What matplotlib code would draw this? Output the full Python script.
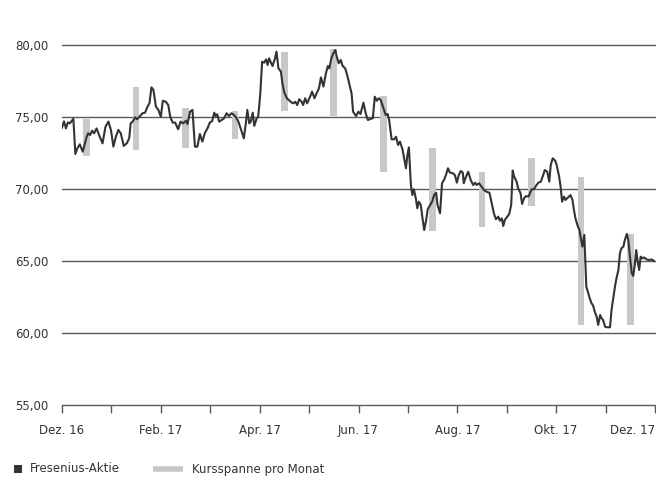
import matplotlib
matplotlib.use("Agg")
import matplotlib.pyplot as plt
from matplotlib.patches import Rectangle
from matplotlib.lines import Line2D
from matplotlib.ticker import FuncFormatter

# ---- data ----
# time in months since 1 Dec 2016 (0 = Dez. 16, 12 = Dez. 17)
t_months = [0.00, 0.04, 0.08, 0.12, 0.16, 0.23, 0.27, 0.31, 0.36, 0.42, 0.50, 0.53, 0.57, 0.61,
            0.65, 0.70, 0.75, 0.82, 0.88, 0.94, 0.99, 1.04, 1.09, 1.14, 1.19, 1.25, 1.31, 1.36,
            1.39, 1.43, 1.48, 1.52, 1.58, 1.63, 1.68, 1.73, 1.77, 1.81, 1.85, 1.90, 1.95, 2.00,
            2.04, 2.10, 2.15, 2.19, 2.24, 2.29, 2.35, 2.40, 2.45, 2.51, 2.54, 2.59, 2.64, 2.69,
            2.74, 2.79, 2.84, 2.89, 2.95, 2.99, 3.04, 3.08, 3.11, 3.14, 3.18, 3.23, 3.28, 3.33,
            3.38, 3.43, 3.48, 3.52, 3.57, 3.62, 3.68, 3.72, 3.75, 3.79, 3.82, 3.86, 3.89, 3.94,
            3.97, 4.01, 4.05, 4.09, 4.13, 4.16, 4.19, 4.23, 4.26, 4.31, 4.34, 4.38, 4.43, 4.46,
            4.50, 4.55, 4.59, 4.64, 4.68, 4.72, 4.76, 4.80, 4.85, 4.88, 4.92, 4.96, 5.02, 5.06,
            5.11, 5.15, 5.20, 5.24, 5.29, 5.34, 5.38, 5.41, 5.45, 5.49, 5.53, 5.56, 5.60, 5.64,
            5.68, 5.73, 5.77, 5.81, 5.86, 5.89, 5.95, 6.00, 6.04, 6.10, 6.15, 6.19, 6.25, 6.29,
            6.33, 6.37, 6.41, 6.45, 6.50, 6.55, 6.59, 6.62, 6.67, 6.72, 6.76, 6.80, 6.84, 6.89,
            6.93, 6.96, 6.99, 7.02, 7.06, 7.09, 7.12, 7.16, 7.19, 7.22, 7.26, 7.30, 7.33, 7.37,
            7.40, 7.45, 7.49, 7.53, 7.57, 7.60, 7.65, 7.69, 7.73, 7.77, 7.81, 7.85, 7.91, 7.95,
            7.99, 8.03, 8.07, 8.11, 8.13, 8.17, 8.22, 8.27, 8.32, 8.36, 8.39, 8.44, 8.49, 8.54,
            8.59, 8.65, 8.69, 8.74, 8.78, 8.83, 8.86, 8.90, 8.93, 8.96, 9.00, 9.05, 9.09, 9.12,
            9.15, 9.20, 9.23, 9.28, 9.31, 9.35, 9.39, 9.44, 9.47, 9.50, 9.55, 9.59, 9.64, 9.69,
            9.73, 9.77, 9.82, 9.86, 9.89, 9.93, 9.98, 10.01, 10.06, 10.09, 10.12, 10.16, 10.19,
            10.22, 10.26, 10.29, 10.33, 10.36, 10.39, 10.43, 10.47, 10.50, 10.53, 10.57, 10.59,
            10.61, 10.65, 10.68, 10.71, 10.75, 10.78, 10.82, 10.85, 10.89, 10.92, 10.95, 10.99,
            11.02, 11.05, 11.09, 11.12, 11.16, 11.19, 11.22, 11.26, 11.29, 11.32, 11.36, 11.39,
            11.43, 11.46, 11.49, 11.53, 11.56, 11.59, 11.62, 11.65, 11.68, 11.71, 11.75, 11.78,
            11.83, 11.88, 11.93, 11.98]

price = [74.26, 74.70, 74.21, 74.63, 74.56, 74.88, 72.43, 72.82, 73.10, 72.59, 73.63, 73.87, 73.75, 74.05,
         73.87, 74.21, 73.75, 73.17, 74.33, 74.68, 74.10, 72.94, 73.63, 74.10, 73.87, 72.99, 73.17, 73.52,
         74.56, 74.68, 74.98, 74.84, 75.07, 75.26, 75.30, 75.72, 75.95, 77.06, 76.88, 75.72, 75.49, 75.02,
         76.13, 76.06, 75.83, 75.02, 74.61, 74.61, 74.15, 74.68, 74.56, 74.74, 74.51, 75.37, 75.49, 72.94,
         72.94, 73.82, 73.29, 73.87, 74.26, 74.61, 74.72, 75.30, 75.07, 75.19, 74.68, 74.79, 74.91, 75.26,
         75.07, 75.26, 75.14, 74.98, 74.68, 74.15, 73.52, 74.56, 75.49, 74.56, 74.68, 75.30, 74.38, 74.91,
         75.02, 76.50, 78.84, 78.77, 79.00, 78.61, 79.07, 78.77, 78.54, 79.07, 79.54, 78.38, 78.15, 77.34,
         76.69, 76.30, 76.18, 76.02, 75.95, 76.06, 75.83, 76.23, 76.06, 75.83, 76.30, 75.95, 76.41, 76.76,
         76.30, 76.64, 76.99, 77.75, 77.11, 78.03, 78.54, 78.38, 79.07, 79.42, 79.65, 79.19, 78.73, 78.96,
         78.54, 78.38, 77.92, 77.34, 76.64, 75.37, 75.07, 75.37, 75.21, 75.99, 75.21, 74.79, 74.88, 74.91,
         76.41, 76.13, 76.30, 76.18, 75.67, 75.14, 75.21, 74.79, 73.45, 73.45, 73.63, 73.06, 73.29, 72.76,
         72.01, 71.44, 72.36, 72.89, 70.28, 69.58, 69.98, 69.35, 68.66, 69.12, 68.89, 67.85, 67.15, 67.85,
         68.59, 68.89, 69.12, 69.58, 69.74, 68.89, 68.31, 70.40, 70.63, 70.97, 71.44, 71.14, 71.09, 70.97,
         70.44, 70.97, 71.25, 71.14, 70.40, 70.81, 71.20, 70.63, 70.28, 70.44, 70.28, 70.40, 70.16, 69.93,
         69.81, 69.74, 69.12, 68.31, 67.90, 68.08, 67.80, 67.96, 67.43, 67.85, 68.03, 68.26, 68.89, 71.28,
         70.86, 70.51, 70.05, 69.70, 68.96, 69.35, 69.51, 69.47, 69.70, 69.98, 69.98, 70.21, 70.44, 70.51,
         70.90, 71.32, 71.20, 70.51, 71.67, 72.13, 71.97, 71.67, 70.86, 70.16, 69.12, 69.47, 69.24,
         69.35, 69.47, 69.58, 69.24, 68.54, 67.96, 67.50, 67.15, 66.58, 66.00, 66.81, 65.07,
         63.22, 62.76, 62.41, 62.11, 61.88, 61.48, 61.13, 60.56, 61.25, 61.02, 60.90, 60.44,
         60.40, 60.40, 60.40, 61.60, 62.52, 63.22, 63.80, 64.38, 65.53, 65.88, 66.00, 66.46,
         66.88, 66.46, 65.42, 64.15, 63.96, 64.72, 65.76, 64.95, 64.38, 65.30, 65.18, 65.25,
         65.11, 65.07, 65.11, 65.00]

# monthly trading range (Dec 16 .. Nov 17), bar at mid-month
range_pos = [0.5, 1.5, 2.5, 3.5, 4.5, 5.5, 6.5, 7.5, 8.5, 9.5, 10.5, 11.5]
range_low = [72.29, 72.71, 72.82, 73.45, 75.42, 75.07, 71.20, 67.11, 67.38, 68.84, 60.56, 60.56]
range_high = [74.84, 77.06, 75.60, 75.42, 79.54, 79.72, 76.46, 72.82, 71.20, 72.13, 70.81, 66.88]

tick_pos = list(range(13))
tick_labels = ["Dez. 16", "", "Feb. 17", "", "Apr. 17", "", "Jun. 17", "", "Aug. 17", "",
               "Okt. 17", "", "Dez. 17"]
y_ticks = [55, 60, 65, 70, 75, 80]

legend_labels = ["Fresenius-Aktie", "Kursspanne pro Monat"]

# ---- style ----
plt.rcParams["font.family"] = ["DejaVu Sans"]
TXT = "#333333"
LINE = "#333333"
BAR = "#c8c8c8"
GRID = "#5a5a5a"
FS = 8.5

W, H = 656, 479
fig = plt.figure(figsize=(W / 100, H / 100), dpi=100)
ax = fig.add_axes([62 / W, 74 / H, 593 / W, 360 / H])

ax.set_xlim(0, 12)
ax.set_ylim(55, 80)

# grid lines
for yv in y_ticks[1:]:
    ax.axhline(yv, color=GRID, lw=1.0, zorder=1, clip_on=False)

# range bars
heights = [h - l for h, l in zip(range_high, range_low)]
ax.bar(range_pos, heights, bottom=range_low, width=0.135, color=BAR, zorder=2, linewidth=0)

# price line
ax.plot(t_months, price, color=LINE, lw=1.5, zorder=3, solid_joinstyle="round")

for s in ["top", "right", "left"]:
    ax.spines[s].set_visible(False)
ax.spines["bottom"].set_color(GRID)
ax.spines["bottom"].set_linewidth(1.0)

ax.set_yticks(y_ticks)
ax.yaxis.set_major_formatter(FuncFormatter(lambda v, p: f"{v:.2f}".replace(".", ",")))
ax.tick_params(axis="y", length=0, pad=10, labelsize=FS, labelcolor=TXT)

ax.set_xticks(tick_pos)
ax.set_xticklabels(tick_labels)
ax.tick_params(axis="x", length=6, width=1.0, color=GRID, direction="out", pad=8,
               labelsize=FS, labelcolor=TXT)
xt = ax.get_xticklabels()
xt[-1].set_horizontalalignment("right")
xt[0].set_horizontalalignment("center")

# legend (manual, figure pixel coordinates)
fig.add_artist(Rectangle((14 / W, (H - 473) / H), 8 / W, 8 / H, transform=fig.transFigure,
                         facecolor=LINE, edgecolor="none"))
fig.text(30 / W, (H - 469) / H, legend_labels[0], fontsize=FS, color=TXT, va="center", ha="left")
fig.add_artist(Line2D([153 / W, 183 / W], [(H - 469) / H, (H - 469) / H], transform=fig.transFigure,
                      color=BAR, lw=4, solid_capstyle="butt"))
fig.text(192 / W, (H - 469) / H, legend_labels[1], fontsize=FS, color=TXT, va="center", ha="left")

fig.savefig("out.png", dpi=100)
